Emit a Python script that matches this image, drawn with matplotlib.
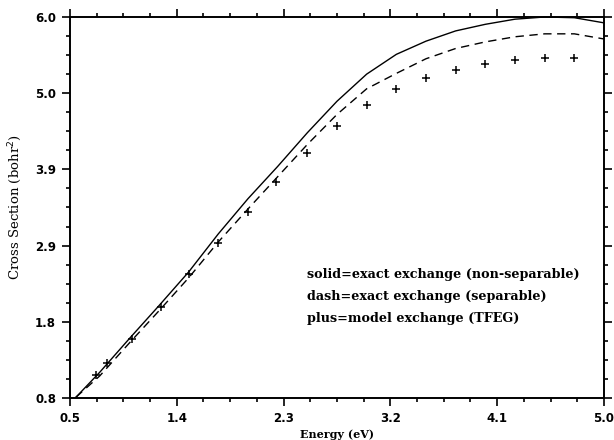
import numpy as np
import matplotlib
matplotlib.use('Agg')
import matplotlib.pyplot as plt
from matplotlib.ticker import FixedLocator, AutoMinorLocator

# energies (eV) for the two exact-exchange curves
energy = [0.55, 0.75, 1.0, 1.25, 1.5, 1.75, 2.0, 2.25, 2.5, 2.75,
          3.0, 3.25, 3.5, 3.75, 4.0, 4.25, 4.5, 4.75, 5.0]
solid = [0.81, 1.15, 1.61, 2.06, 2.52, 3.04, 3.52, 3.96, 4.42, 4.85,
         5.22, 5.49, 5.67, 5.81, 5.90, 5.97, 6.00, 5.99, 5.92]
dash = [0.81, 1.10, 1.55, 1.99, 2.44, 2.93, 3.38, 3.82, 4.26, 4.67,
        5.02, 5.23, 5.43, 5.57, 5.66, 5.73, 5.77, 5.77, 5.70]

# model exchange points
energy_plus = [0.72, 0.81, 1.02, 1.27, 1.5, 1.75, 2.0, 2.24, 2.5, 2.75,
               3.0, 3.25, 3.5, 3.75, 4.0, 4.25, 4.5, 4.75]
plus = [1.11, 1.28, 1.61, 2.04, 2.49, 2.92, 3.34, 3.75, 4.14, 4.51,
        4.80, 5.02, 5.17, 5.28, 5.36, 5.41, 5.44, 5.44]

xticks = [0.5, 1.4, 2.3, 3.2, 4.1, 5.0]
yticks = [0.8, 1.84, 2.88, 3.92, 4.96, 6.0]
legend_lines = ['solid=exact exchange (non-separable)',
                'dash=exact exchange (separable)',
                'plus=model exchange (TFEG)']

fig = plt.figure(figsize=(6.14, 4.40), dpi=100)
ax = fig.add_axes([0.114, 0.0955, 0.8697, 0.8659])

ax.plot(energy, solid, color='black', lw=1.0, clip_on=False)
ax.plot(energy, dash, color='black', lw=1.0, linestyle=(0, (6, 4)), clip_on=False)
ax.plot(energy_plus, plus, linestyle='none', marker='+', color='black',
        markersize=6, markeredgewidth=1.1)

ax.set_xlim(0.5, 5.0)
ax.set_ylim(0.8, 6.0)
ax.xaxis.set_major_locator(FixedLocator(xticks))
ax.yaxis.set_major_locator(FixedLocator(yticks))
ax.xaxis.set_minor_locator(AutoMinorLocator(4))
ax.yaxis.set_minor_locator(AutoMinorLocator(4))
ax.set_xticklabels(['%.1f' % v for v in xticks])
ax.set_yticklabels(['%.1f' % v for v in yticks])

ax.tick_params(which='both', direction='out', top=True, right=True,
               labeltop=False, labelright=False, width=1.2)
ax.tick_params(which='major', length=6, labelsize=8.5, pad=4)
ax.tick_params(which='minor', length=3)
for lab in ax.get_xticklabels() + ax.get_yticklabels():
    lab.set_fontweight('bold')
for sp in ax.spines.values():
    sp.set_linewidth(1.4)

ax.set_xlabel('Energy (eV)', family='DejaVu Serif', fontweight='bold',
              fontsize=8, labelpad=3)
ax.set_ylabel('Cross Section (bohr$^2$)', family='DejaVu Serif',
              fontsize=9.5, labelpad=8)

for i, t in enumerate(legend_lines):
    ax.text(2.5, 2.48 - i * 0.30, t, fontsize=9.2, fontweight='bold',
            family='DejaVu Serif', va='center')

fig.savefig('out.png', dpi=100)
